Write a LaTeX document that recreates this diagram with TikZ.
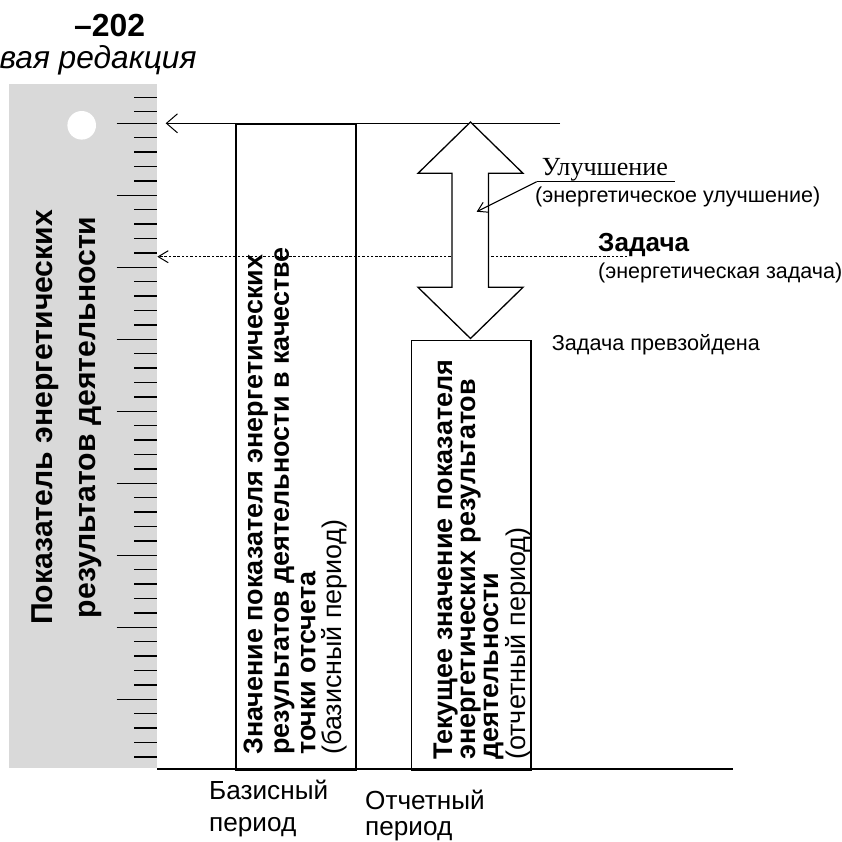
\documentclass[tikz,border=0pt]{standalone}
\usepackage{fontspec}
\setmainfont{Liberation Sans}
\newfontfamily\serifcyr{Liberation Serif}
\usetikzlibrary{arrows.meta}
\newlength\fitlen
\newcommand\fitsize[4]{%
  \setbox0=\hbox{\normalfont#3\fontsize{10}{12}\selectfont #4}%
  \global\fitlen=\wd0
  \pgfmathsetmacro\fittmp{10*#2/\fitlen}%
  \xdef#1{\fittmp}}
\AtBeginDocument{%
\fitsize{\fsTitle}{71}{\bfseries}{–202}%
\fitsize{\fsItal}{197}{\itshape}{вая редакция}%
\fitsize{\fsRuler}{415}{\bfseries}{Показатель энергетических}%
\fitsize{\fsBase}{500}{\bfseries}{Значение показателя энергетических}%
\fitsize{\fsCur}{400}{\bfseries}{Текущее значение показателя}%
\fitsize{\fsBot}{119}{}{Базисный}%
\fitsize{\fsUl}{126}{\serifcyr}{Улучшение}%
\fitsize{\fsEn}{285}{}{(энергетическое улучшение)}%
\fitsize{\fsZ}{91}{\bfseries}{Задача}%
\fitsize{\fsPr}{208}{}{Задача превзойдена}%
}
\begin{document}
\begin{tikzpicture}[x=1pt,y=-1pt,
  frame/.style={line width=1.5pt},
  tick/.style={line width=1.5pt},
  openarrow/.style={-{Straight Barb[length=11pt,width=19pt,line width=1pt]},line width=1.3pt},
  dotarrow/.style={-{Straight Barb[length=10pt,width=12pt,line width=1pt]},line width=1pt,dash pattern=on 2.5pt off 1.8pt},
  leader/.style={-{Straight Barb[length=9pt,width=11pt,line width=1pt]},line width=1.2pt},
  txt/.style={inner sep=0pt}]
\useasboundingbox (0,0) rectangle (842,841);
% title
\node[txt,anchor=base west,font=\bfseries\fontsize{\fsTitle}{\fsTitle}\selectfont] (title) at (74,36) {–202};
\node[txt,anchor=base east,font=\itshape\fontsize{\fsItal}{\fsItal}\selectfont] (subtitle) at (196.7,68.3) {вая редакция};
% ruler
\fill[black!15] (9,84) rectangle (157,768);
\fill[white] (81.7,125.3) circle (14.3);
\foreach \yy in {97.3,111.7} {\draw[tick] (134,\yy) -- (157,\yy);}
\foreach \k in {0,...,44} {
  \pgfmathsetmacro\yy{123.3+14.4*\k}
  \pgfmathtruncatemacro\mm{mod(\k,5)}
  \ifnum\mm=0 \draw[tick] (116.7,\yy) -- (157,\yy);
  \else \draw[tick] (134,\yy) -- (157,\yy); \fi
}
\node[txt,rotate=90,anchor=north west,align=center,font=\bfseries\fontsize{\fsRuler}{43}\selectfont] (rulerlabel) at (32,625) {Показатель энергетических\\результатов деятельности};
% coordinates for connectors
\coordinate (topR) at (560,123.3);
\coordinate (topL) at (165.7,123.3);
\coordinate (tgtR) at (627,256.7);
\coordinate (tgtL) at (157.3,256.7);
\coordinate (axisL) at (157,769);
\coordinate (axisR) at (733,769);
% base and current boxes
\node[draw,frame,inner sep=0,minimum width=120pt,minimum height=645.7pt,anchor=north west] (basebox) at (235,123.3) {};
\node[draw,frame,inner sep=0,minimum width=119.5pt,minimum height=429.5pt,anchor=north west] (curbox) at (410.5,339.5) {};
% lines
\draw[openarrow] (topR) -- (topL);
\draw[dotarrow] (tgtR) -- (tgtL);
\draw[frame] (axisL) -- (axisR);
% double arrow (improvement)
\filldraw[fill=white,line width=1.3pt] (470.5,122) -- (523,173.3) -- (488.5,173.3) -- (488.5,287.3) -- (523,287.3) -- (470.5,338.5) -- (418,287.3) -- (452,287.3) -- (452,173.3) -- (418,173.3) -- cycle;
\coordinate (arrowtip) at (476.7,211.7);
% box texts
\node[txt,rotate=90,anchor=north west,align=left,font=\bfseries\fontsize{\fsBase}{26.5}\selectfont] (basetext) at (243.3,755) {Значение показателя энергетических\\результатов деятельности в качестве\\точки отсчета\\\mdseries(базисный период)};
\node[txt,rotate=90,anchor=north west,align=left,font=\bfseries\fontsize{\fsCur}{23.3}\selectfont] (curtext) at (433.3,760) {Текущее значение показателя\\энергетических результатов\\деятельности\\\mdseries(отчетный период)};
% right labels
\node[txt,anchor=base west,font=\serifcyr\fontsize{\fsUl}{\fsUl}\selectfont] (improve) at (541.7,175) {Улучшение};
\coordinate (ulL) at (536.7,181.7);
\coordinate (ulR) at (675,181.7);
\draw[line width=1.2pt] (ulL) -- (ulR);
\draw[leader] (ulL) -- (arrowtip);
\node[txt,anchor=base west,font=\fontsize{\fsEn}{\fsEn}\selectfont] (improve2) at (535,202) {(энергетическое улучшение)};
\node[txt,anchor=base west,font=\bfseries\fontsize{\fsZ}{\fsZ}\selectfont] (target) at (598,251.7) {Задача};
\node[txt,anchor=base west,font=\fontsize{\fsEn}{\fsEn}\selectfont] (target2) at (598,278) {(энергетическая задача)};
\node[txt,anchor=base west,font=\fontsize{\fsPr}{\fsPr}\selectfont] (exceeded) at (551.7,350) {Задача превзойдена};
% bottom labels
\node[txt,anchor=base west,font=\fontsize{\fsBot}{\fsBot}\selectfont] (baselab1) at (209,799.3) {Базисный};
\node[txt,anchor=base west,font=\fontsize{\fsBot}{\fsBot}\selectfont] (baselab2) at (209,831) {период};
\node[txt,anchor=base west,font=\fontsize{\fsBot}{\fsBot}\selectfont] (curlab1) at (365,809.3) {Отчетный};
\node[txt,anchor=base west,font=\fontsize{\fsBot}{\fsBot}\selectfont] (curlab2) at (365,835.5) {период};
\end{tikzpicture}
\end{document}
